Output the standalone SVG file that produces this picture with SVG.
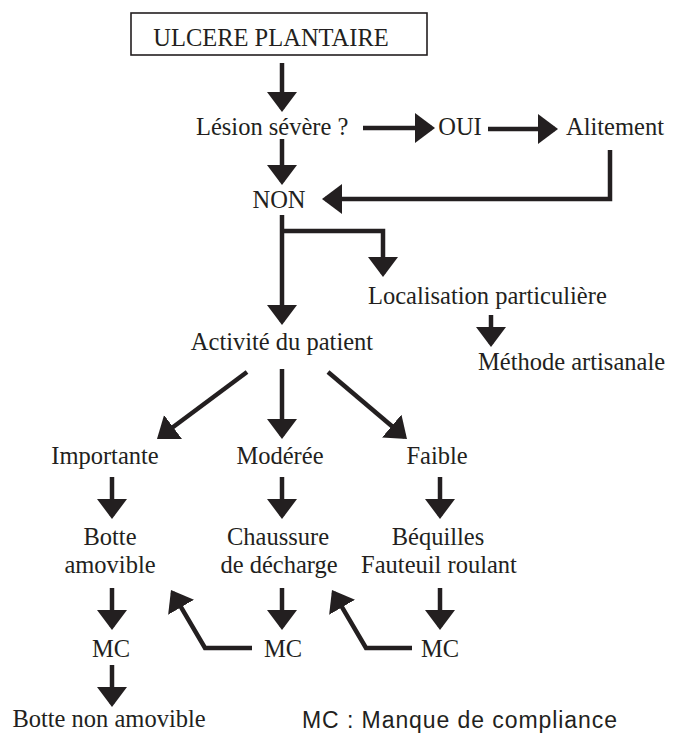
<svg xmlns="http://www.w3.org/2000/svg" width="675" height="734" viewBox="0 0 675 734">
<style>
.t{font-family:'Liberation Serif','Times New Roman',Times,serif;font-size:24.5px;fill:#231f20}
.m{text-anchor:middle}
.c{fill:none;stroke:#231f20;stroke-width:4.5;stroke-linejoin:miter;marker-end:url(#ah)}
.legend{font-family:'Liberation Sans Narrow','Liberation Sans',Arial,sans-serif;font-size:23px;fill:#231f20}
</style>
<defs>
<marker id="ah" markerUnits="userSpaceOnUse" markerWidth="22" markerHeight="30" viewBox="0 0 22 30" refX="17" refY="15" orient="auto">
<path d="M0,0 L20,15 L0,30 Z" fill="#231f20"/>
</marker>
</defs>
<rect width="675" height="734" fill="#ffffff"/>
<g class="t" font-family="Liberation Serif, Times New Roman, serif">
<g id="n-ulcere"><rect x="131" y="13" width="296" height="42" fill="#ffffff" stroke="#231f20" stroke-width="1.6"/><text class="m" x="271" y="46">ULCERE PLANTAIRE</text></g>
<g id="n-lesion"><text x="196" y="135">Lésion sévère ?</text></g>
<g id="n-oui"><text class="m" x="460" y="135">OUI</text></g>
<g id="n-alitement"><text class="m" x="615" y="135">Alitement</text></g>
<g id="n-non"><text class="m" x="279" y="208">NON</text></g>
<g id="n-localisation"><text x="368" y="304">Localisation particulière</text></g>
<g id="n-methode"><text x="478" y="370">Méthode artisanale</text></g>
<g id="n-activite"><text class="m" x="282" y="350">Activité du patient</text></g>
<g id="n-importante"><text class="m" x="105" y="464">Importante</text></g>
<g id="n-moderee"><text class="m" x="280" y="464">Modérée</text></g>
<g id="n-faible"><text class="m" x="437" y="464">Faible</text></g>
<g id="n-botte"><text class="m" x="110" y="545">Botte</text><text class="m" x="110" y="573">amovible</text></g>
<g id="n-chaussure"><text class="m" x="278" y="545">Chaussure</text><text class="m" x="279" y="573">de décharge</text></g>
<g id="n-bequilles"><text class="m" x="438" y="545">Béquilles</text><text class="m" x="439" y="573">Fauteuil roulant</text></g>
<g id="n-mc1"><text class="m" x="111" y="657">MC</text></g>
<g id="n-mc2"><text class="m" x="283" y="657">MC</text></g>
<g id="n-mc3"><text class="m" x="440" y="657">MC</text></g>
<g id="n-botte-non"><text class="m" x="109" y="727">Botte non amovible</text></g>
</g>
<g id="legend"><text class="legend" x="302" y="728" textLength="315" lengthAdjust="spacing">MC : Manque de compliance</text></g>
<g id="connectors">
<path class="c" d="M282,63 V109"/>
<path class="c" d="M363,128 H432"/>
<path class="c" d="M488,129 H555"/>
<path class="c" d="M610,150 V199 H325"/>
<path class="c" d="M282,139 V182"/>
<path class="c" d="M282,215 V322"/>
<path class="c" d="M282,231 H383 V274"/>
<path class="c" d="M491,315 V344"/>
<path class="c" d="M247,372 L159.4,437.2"/>
<path class="c" d="M282,369 V436"/>
<path class="c" d="M328,372 L404.7,437"/>
<path class="c" d="M112,477 V516"/>
<path class="c" d="M282,477 V516"/>
<path class="c" d="M440,477 V516"/>
<path class="c" d="M112,588 V627"/>
<path class="c" d="M282,588 V627"/>
<path class="c" d="M440,588 V627"/>
<path class="c" d="M112,665 V704"/>
<path class="c" d="M252,648 H205 L172.5,592.6"/>
<path class="c" d="M412,648 H366 L333.5,592.6"/>
</g>
</svg>
